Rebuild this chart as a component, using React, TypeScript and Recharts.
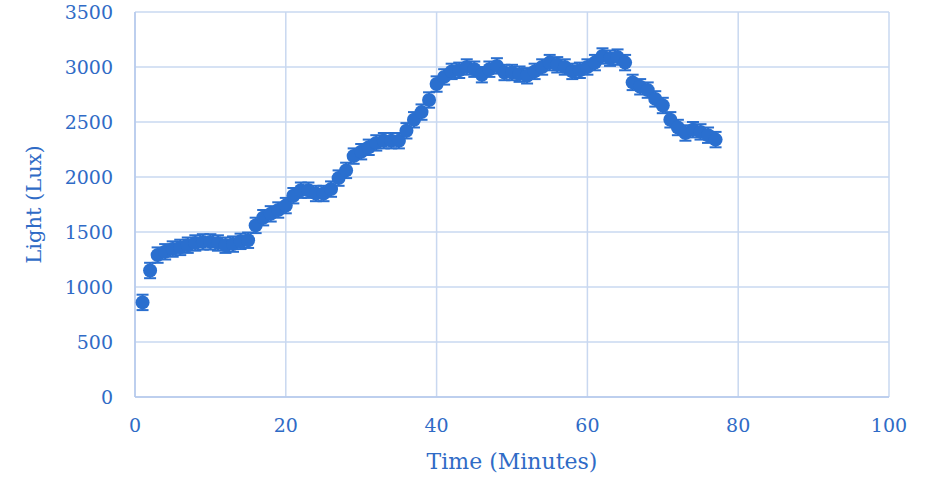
import { ScatterChart, Scatter, XAxis, YAxis, CartesianGrid, ErrorBar } from "recharts";

const minutes = [
  1, 2, 3, 4, 5, 6, 7, 8, 9, 10, 11, 12, 13, 14, 15, 16, 17, 18, 19, 20,
  21, 22, 23, 24, 25, 26, 27, 28, 29, 30, 31, 32, 33, 34, 35, 36, 37, 38, 39, 40,
  41, 42, 43, 44, 45, 46, 47, 48, 49, 50, 51, 52, 53, 54, 55, 56, 57, 58, 59, 60,
  61, 62, 63, 64, 65, 66, 67, 68, 69, 70, 71, 72, 73, 74, 75, 76, 77,
];

const lux = [
  860, 1150, 1290, 1320, 1345, 1360, 1380, 1400, 1410, 1410, 1400, 1380, 1390, 1415, 1425, 1560, 1630, 1665, 1700, 1740,
  1830, 1880, 1880, 1850, 1850, 1890, 1990, 2060, 2190, 2230, 2270, 2310, 2330, 2330, 2330, 2420, 2520, 2590, 2700, 2845,
  2910, 2960, 2970, 3000, 2980, 2930, 2980, 3010, 2950, 2950, 2935, 2920, 2960, 3000, 3040, 3020, 3000, 2960, 2970, 3000,
  3040, 3100, 3080, 3090, 3040, 2860, 2820, 2790, 2710, 2650, 2520, 2450, 2400, 2430, 2410, 2380, 2340,
];

const errorLux = 70;

const xTicks = [0, 20, 40, 60, 80, 100];
const yTicks = [0, 500, 1000, 1500, 2000, 2500, 3000, 3500];

const data = minutes.map((t, i) => ({ t, lux: lux[i], err: errorLux }));

const blue = "#2a6fcf";
const textBlue = "#2f6bc6";
const font = "'DejaVu Serif', serif";

export default function App() {
  return (
    <div style={{ position: "absolute", left: 0, top: 0, background: "#fff" }}>
      <ScatterChart width={933} height={477} margin={{ top: 12, right: 44, bottom: 0, left: 0 }}>
        <CartesianGrid stroke="#c9d8f0" strokeWidth={1.5} />
        <XAxis
          type="number"
          dataKey="t"
          domain={[0, 100]}
          ticks={xTicks}
          height={80}
          tickLine={false}
          axisLine={{ stroke: "#b4c9ec", strokeWidth: 1.5 }}
          tickMargin={16}
          tick={{ fill: textBlue, fontSize: 19, fontFamily: font }}
          label={{
            value: "Time (Minutes)",
            position: "insideBottom",
            offset: 8,
            fill: textBlue,
            fontSize: 22,
            fontFamily: font,
          }}
        />
        <YAxis
          type="number"
          dataKey="lux"
          domain={[0, 3500]}
          ticks={yTicks}
          width={135}
          tickLine={false}
          axisLine={{ stroke: "#b4c9ec", strokeWidth: 1.5 }}
          tickMargin={16}
          tick={{ fill: textBlue, fontSize: 19, fontFamily: font }}
          label={{
            value: "Light (Lux)",
            angle: -90,
            position: "insideLeft",
            offset: 34,
            fill: textBlue,
            fontSize: 21,
            fontFamily: font,
            style: { textAnchor: "middle" },
          }}
        />
        <Scatter data={data} fill={blue} isAnimationActive={false} shape={(p: any) => <circle cx={p.cx} cy={p.cy} r={7} fill={blue} />}>
          <ErrorBar dataKey="err" direction="y" width={6} stroke={blue} strokeWidth={2} isAnimationActive={false} />
        </Scatter>
      </ScatterChart>
    </div>
  );
}
